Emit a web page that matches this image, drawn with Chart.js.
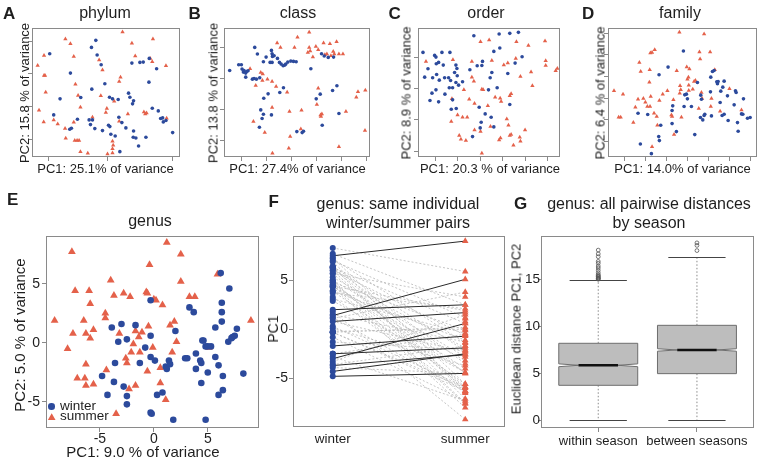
<!DOCTYPE html>
<html><head><meta charset="utf-8">
<script src="https://cdn.jsdelivr.net/npm/chart.js@4/dist/chart.umd.min.js"></script>
<style>
html,body{margin:0;padding:0;background:#fff}
body{position:relative;width:759px;height:460px;overflow:hidden;font-family:"Liberation Sans",Arial,Helvetica,sans-serif;color:#1e1e1e}
canvas{position:absolute;left:0;top:0}
.t{position:absolute;white-space:nowrap;line-height:1}
.mk{position:absolute}
</style></head><body>
<script>
// ---------------- DATA ----------------
const phylumWinter = [[-8.65,7.9],[-1.75,9.9],[-2.4,8.85],[-1.55,7.7],[-0.95,6.25],[-5.55,5.0],[-0.4,3.4],[-2.35,2.6],[-7.1,1.15],[-4.0,1.35],[0.3,1.4],[0.75,1.15],[1.6,1.05],[3.15,2.0],[3.35,1.4],[3.9,0.85],[3.75,0.4],[-8.05,-1.25],[-4.5,-1.9],[-5.65,-3.4],[-2.55,-2.7],[-2.25,-2.0],[-1.9,-3.3],[-0.75,-3.6],[0.15,-2.8],[0.35,-3.0],[1.15,-4.4],[0.5,-4.15],[1.7,-1.6],[2.15,-2.4],[2.75,-3.2],[3.9,-3.65],[3.85,-4.6],[4.25,-4.7],[4.65,-5.9],[5.75,-4.6],[1.85,-6.75],[3.65,6.5],[4.85,6.6],[5.35,6.65],[6.25,7.2],[7.35,5.65],[6.2,3.65],[6.7,-0.25],[7.6,-0.65],[7.95,-1.8],[8.25,-1.7],[8.35,-2.3],[8.75,-2.1],[9.75,-3.9],[-5.4,-3.25],[-2.75,-2.0]];
const phylumSummer = [[2.25,11.15],[6.8,10.1],[-6.3,10.1],[-5.55,9.4],[3.65,9.45],[-9.5,7.65],[-5.05,7.5],[-1.25,6.95],[4.15,7.55],[6.4,7.2],[6.7,6.7],[8.75,6.1],[-10.45,6.15],[-0.75,5.45],[-9.5,4.65],[-9.35,4.65],[1.95,4.4],[1.75,3.75],[-4.8,3.35],[-9.25,2.15],[-4.4,1.65],[-1.0,1.6],[1.0,0.8],[-4.05,-0.1],[-0.1,-0.3],[-0.25,-0.9],[-10.25,-0.55],[3.05,-1.1],[5.45,-0.8],[5.65,-1.1],[5.85,-0.95],[8.85,-1.75],[-8.05,-2.0],[-7.45,-2.6],[-9.55,-2.3],[-6.35,-3.3],[-2.25,-1.6],[-5.05,-2.35],[1.75,-2.2],[-6.25,-4.75],[-4.9,-5.1],[-4.55,-5.1],[-4.25,-5.1],[0.75,-5.2],[0.85,-5.8],[-4.05,-6.75],[-2.95,-7.0],[0.0,-7.1],[0.75,-6.95],[0.75,-6.3]];

const classWinter = [[-9.25,5.8],[-7.9,6.65],[-7.5,6.65],[-7.4,6.0],[-7.2,5.55],[-6.85,5.4],[-7.1,5.8],[-6.7,5.65],[-6.5,5.75],[-6.85,4.8],[-5.85,4.5],[-5.6,4.6],[-5.25,4.5],[-4.75,4.7],[-5.5,9.25],[-5.1,8.25],[-4.2,7.1],[-3.8,7.8],[-3.2,7.0],[-3.0,8.8],[-2.9,8.3],[-2.85,7.9],[-2.1,7.6],[-1.8,7.0],[-1.55,6.75],[-1.25,6.5],[-1.0,6.6],[-0.85,6.75],[-0.55,7.05],[-0.1,7.2],[0.3,7.15],[0.7,7.1],[-2.9,7.0],[-2.6,8.0],[-1.2,3.2],[-1.75,2.5],[-4.15,1.65],[-3.5,2.3],[-4.6,-0.1],[-4.2,-0.75],[-4.4,-1.4],[-4.8,-2.7],[-3.0,-0.85],[0.8,-3.35],[1.6,-3.5],[1.8,-3.3],[2.9,6.05],[4.5,8.3],[4.9,7.95],[5.5,7.75],[6.3,7.8],[6.15,2.8],[6.8,3.5],[3.7,1.55],[4.3,2.25],[4.6,-2.4],[7.1,-0.65]];
const classSummer = [[2.65,11.5],[0.9,10.75],[-2.15,9.9],[-1.65,9.25],[0.45,9.25],[-6.2,6.05],[-4.6,5.5],[-4.3,5.25],[-5.35,3.55],[-4.35,4.3],[-3.6,4.5],[-2.9,4.15],[-2.3,3.4],[-0.65,2.55],[2.65,9.25],[2.8,8.7],[3.2,7.8],[2.45,8.5],[3.65,9.4],[4.0,8.9],[4.8,9.9],[5.75,9.8],[6.75,10.1],[5.0,8.15],[5.3,8.25],[6.25,8.65],[6.4,8.25],[7.1,8.25],[7.7,8.25],[5.9,8.0],[4.0,3.15],[9.95,2.6],[9.7,1.8],[11.05,2.85],[3.8,0.7],[4.35,-0.85],[4.55,-0.7],[4.4,-1.1],[8.15,-0.35],[1.5,-0.15],[-0.3,-0.35],[-2.9,0.25],[-5.7,-1.85],[-4.0,-3.5],[-0.2,-4.1],[-0.4,-5.85],[1.4,-2.95],[-2.85,-6.6],[7.1,-5.6],[11.0,-3.2]];

const orderWinter = [[-8.65,10.1],[-6.9,9.65],[-6.7,9.4],[-5.8,10.1],[-4.6,10.1],[-6.65,8.4],[-6.3,8.6],[-5.6,8.2],[-7.9,7.65],[-8.4,6.4],[-7.2,6.3],[-6.6,6.8],[-6.2,5.95],[-5.4,6.3],[-4.8,6.3],[-3.7,8.2],[-3.55,7.7],[-3.9,7.1],[-3.5,6.6],[-4.5,5.9],[-3.7,5.6],[-2.7,5.7],[-3.3,5.2],[-4.2,4.8],[-4.7,4.8],[-6.7,4.5],[-7.3,4.0],[-7.6,2.9],[-6.3,2.7],[-5.35,3.85],[-4.2,3.0],[-4.4,1.6],[-3.65,1.7],[-1.0,12.6],[2.8,12.85],[4.4,12.95],[5.7,13.1],[2.9,10.75],[2.0,10.25],[6.25,9.45],[5.2,8.5],[4.1,6.95],[-1.6,7.5],[-0.5,8.1],[0.3,8.75],[0.2,8.15],[1.7,7.1],[1.45,6.3],[1.2,4.5],[2.5,4.8],[4.4,2.3],[-0.2,1.9],[0.7,0.9],[1.6,0.4],[0.1,-0.35],[-0.05,-1.2],[-1.2,-2.5],[2.0,-1.05]];
const orderSummer = [[-8.2,8.75],[-4.15,9.0],[0.0,11.7],[1.3,11.95],[-1.3,8.75],[1.7,8.9],[-1.3,6.4],[-1.0,5.8],[-2.5,4.5],[-4.3,3.15],[-4.4,-0.25],[-3.45,0.75],[-2.7,0.4],[-2.0,0.4],[-1.7,3.1],[-0.9,2.45],[0.2,4.6],[0.4,4.5],[1.1,2.1],[2.2,3.4],[2.95,3.25],[0.0,-1.75],[-0.9,-1.5],[1.5,-1.0],[-3.2,-2.35],[-2.95,-2.9],[-2.2,-3.1],[0.2,-5.0],[2.8,-3.0],[3.0,-2.7],[3.95,0.15],[4.2,-0.8],[4.4,-2.35],[4.6,-2.2],[4.95,-3.8],[5.9,-2.6],[6.0,-3.2],[6.7,-1.5],[4.1,8.5],[4.4,3.6],[4.6,3.9],[3.5,8.2],[5.4,11.7],[7.2,11.15],[5.3,9.2],[6.0,6.5],[7.6,7.15],[7.8,5.1],[9.7,11.8],[9.8,8.85],[9.8,8.15],[11.3,7.35],[11.55,7.7],[3.1,2.75]];

const familyWinter = [[2.55,7.05],[0.25,4.65],[-1.1,3.5],[-4.25,-2.25],[-3.9,-6.85],[-2.8,-2.45],[-2.25,-8.3],[-1.15,-5.75],[-1.05,-6.35],[-0.85,-4.05],[0.85,-3.8],[0.85,-1.85],[0.95,-1.15],[1.5,-5.0],[2.75,0.5],[2.65,-1.25],[3.0,0.6],[3.15,-0.1],[3.75,-1.25],[4.25,-5.45],[4.65,2.35],[5.15,0.45],[5.25,-0.15],[5.1,-2.9],[5.65,-2.6],[5.75,-2.4],[5.45,-3.25],[6.65,3.15],[6.9,4.0],[6.6,0.95],[6.75,-2.65],[7.15,4.15],[7.55,2.45],[7.65,2.15],[7.75,2.5],[8.15,1.05],[8.05,-0.65],[8.65,2.55],[8.45,1.65],[8.35,-2.6],[8.65,-2.4],[9.15,0.35],[9.25,-3.35],[10.15,-1.0],[10.35,1.1],[10.45,0.85],[10.65,-3.65],[10.75,-4.95],[11.25,-2.35],[11.45,-2.4],[11.55,-0.1],[12.15,-3.0],[12.55,-2.9]];
const familySummer = [[-7.85,1.1],[-6.5,0.6],[-7.15,-2.85],[-6.85,-2.85],[-4.95,-3.65],[-4.65,-1.35],[-4.25,-0.15],[-3.45,-0.05],[-4.05,5.35],[-3.85,4.0],[-2.85,-1.25],[-2.45,-1.25],[-3.15,-0.6],[-2.35,0.25],[-2.55,2.4],[-2.5,4.25],[-2.4,6.75],[-2.15,6.85],[-1.75,7.25],[-1.85,-2.25],[-1.45,-2.75],[-1.35,-4.05],[-1.05,-0.35],[-0.55,0.6],[0.15,1.1],[-2.15,-7.25],[1.05,-0.25],[0.75,-2.5],[0.85,-2.75],[1.15,-5.45],[1.55,4.1],[2.25,-2.85],[1.95,9.85],[2.0,0.75],[2.15,1.25],[2.05,1.85],[3.05,4.65],[3.15,2.85],[3.3,3.15],[3.45,4.35],[3.35,1.95],[3.35,1.15],[3.95,1.35],[4.15,2.5],[4.35,2.65],[4.85,-1.55],[4.95,6.9],[5.05,5.85],[5.25,0.85],[5.35,-0.05],[5.65,9.6],[6.55,6.9],[6.65,-1.25],[6.75,-0.05],[7.25,4.25],[8.05,-1.95],[9.45,1.4],[11.25,-1.75]];

const genusWinter = [[-3.9,1.3],[-3.0,1.6],[-3.3,0.1],[-3.6,-1.7],[-4.8,-2.8],[-4.3,-4.4],[-3.7,-3.3],[-2.8,-3.7],[-2.5,-4.5],[-2.5,-5.2],[-2.5,0.3],[-1.7,1.5],[-1.3,-1.7],[-0.8,-0.4],[-0.3,3.6],[-0.3,-1.2],[-0.3,0.6],[0.1,-1.5],[0.3,-4.4],[0.8,-4.2],[-0.3,-5.9],[-0.2,-6.0],[1.4,-1.5],[1.1,-2.0],[1.2,-2.2],[1.5,-1.8],[1.8,-6.5],[2.0,1.0],[2.9,-1.3],[3.1,-1.3],[3.3,3.0],[3.7,2.6],[3.9,-0.9],[3.9,-2.2],[4.3,-1.5],[4.4,-1.7],[4.4,-3.4],[4.5,0.2],[4.6,0.2],[4.8,-0.3],[5.0,-0.3],[5.0,-2.5],[5.3,-0.3],[4.8,-6.5],[5.7,1.3],[5.7,-1.2],[6.0,-1.9],[6.0,-4.4],[6.3,1.8],[6.2,5.9],[6.3,3.4],[6.3,2.6],[6.4,-2.8],[6.4,-4.0],[6.9,0.1],[7.0,4.6],[7.2,0.4],[7.3,0.5],[7.5,0.6],[7.7,1.2],[8.3,-2.6]];
const genusSummer = [[-9.2,1.9],[-7.6,7.7],[-7.3,4.4],[-6.0,4.4],[-5.9,3.3],[-6.5,1.9],[-5.6,1.1],[-7.5,0.8],[-6.3,0.8],[-5.9,0.4],[-8.0,-0.5],[-6.3,-1.8],[-7.1,-3.0],[-6.4,-3.0],[-6.3,-3.6],[-5.6,-3.5],[-4.0,5.3],[-3.7,4.0],[-4.5,2.5],[-4.5,2.1],[-3.2,0.8],[-4.4,-2.3],[-3.5,-6.0],[-2.8,4.2],[-2.2,3.9],[-1.7,1.0],[-1.9,-0.1],[-2.1,-0.8],[-2.6,-1.3],[-2.5,-1.7],[-2.3,-3.9],[-1.7,-3.6],[-1.4,0.5],[-1.3,-0.8],[-1.1,0.9],[-0.7,4.3],[-0.6,4.2],[-0.5,1.4],[-0.6,-2.4],[-0.4,6.6],[0.0,3.7],[0.2,3.6],[-0.1,-0.4],[0.8,3.2],[0.6,-2.1],[0.6,-3.4],[1.1,-4.8],[1.2,8.5],[1.5,1.5],[1.9,1.8],[2.1,0.1],[1.7,-0.8],[2.5,7.5],[2.5,5.2],[3.3,3.9],[3.8,3.9],[5.1,-0.4],[5.9,5.8],[9.0,1.9]];

// panel F: same individual pairs (PC1 winter -> PC1 summer)
const pairWinterPC1 = [8.3,7.7,7.3,7.2,7.0,6.9,6.4,6.4,6.3,6.3,6.2,6.0,6.0,5.7,5.7,5.3,5.0,5.0,4.8,4.8,4.6,4.5,4.4,4.4,4.3,3.9,3.9,3.7,3.3,3.1,2.9,1.8,1.5,1.2,1.1,0.8,0.3,0.1,-0.2,-0.3,-0.8,-1.3,-2.5,-2.8,-3.3,-3.9,-3.6,-0.3,-0.3,4.4];
const pairSummerPC1 = [5.9,2.5,-5.6,-1.4,1.2,-6.3,-2.2,-7.1,0.6,-3.5,-4.5,-0.6,-6.4,3.3,-5.9,-1.9,-7.5,-2.8,-0.1,-6.0,-4.0,-7.6,1.9,-3.2,-8.0,-1.1,-5.6,2.1,-6.5,-0.4,-4.4,-9.2,-1.3,-6.3,3.8,-2.3,-5.9,-3.7,0.0,-6.3,-7.3,-2.1,-0.5,-7.3,1.5,-4.5,-1.7,-6.0,0.2,-4.4];
const solidWinterPC1 = [7.5,1.4,2.0,0.8,-3.0,-1.7,-2.5,-3.7,-4.3,-4.8];
const solidSummerPC1 = [9.0,5.1,2.5,1.7,0.6,-0.7,-1.9,-2.6,-2.5,-4.5];
const fCats = ['winter','summer'];

// panel G: boxplot statistics
const gCats = ['within season','between seasons'];
const gMin = [0.0, 0.07];
const gQ1 = [3.72, 4.96];
const gMed = [5.85, 7.48];
const gQ3 = [8.19, 10.1];
const gMax = [14.9, 17.34];
const gNotch = [0.15, 0.13];
const gOutWithin = [15.0,15.05,15.1,15.15,15.25,15.3,15.4,15.5,15.7,15.95,16.2,16.4,16.7,16.9,17.4,17.7,18.1];
const gOutBetween = [18.05,18.6,18.87];

// tick positions (no labels shown on A-D)
const ticksA = {x:[-8.9,0,9.7], y:[-4.9,0,4.9,9.75]};
const ticksB = {x:[-7.5,-3.75,0,3.75,7.5,11.25], y:[-4.65,0,4.65,9.3]};
const ticksC = {x:[-6.7,-3.4,0,3.35,6.7,10], y:[-4.75,0,4.7,9.4]};
const ticksD = {x:[-6.3,-3.15,0,3.15,6.3,9.45,12.6], y:[-6.5,-3.25,0,3.25,6.5,9.75]};
const ticksE = [-5,0,5];
const ticksF = [-5,0,5];
const ticksG = [0,5,10,15];

// ---------------- DRAWING ----------------
const W = 759, H = 460;
const FONT = '"Liberation Sans", Arial, Helvetica, sans-serif';
const BLUE = '#2c4a9c', RED = '#e4614a', INK = '#1e1e1e', FRAME = '#8a8a8a';

const framePlugin = {id:'frame', afterDraw(c){
  const a = c.chartArea, ctx = c.ctx;
  ctx.save(); ctx.strokeStyle = FRAME; ctx.lineWidth = 1;
  ctx.strokeRect(Math.round(a.left)+0.5, Math.round(a.top)+0.5, Math.round(a.right-a.left)-1, Math.round(a.bottom-a.top)-1);
  ctx.restore();
}};

function ax(isY, box, min, max, ticks, o){
  o = o || {};
  const tl = (o.tl === undefined) ? 4 : o.tl;
  return {type:'linear', min, max, bounds:'data', position: isY ? 'left' : 'bottom',
    afterBuildTicks: s => { s.ticks = ticks.map(v => ({value:v})); },
    afterFit: s => { if (isY) s.width = box.l; else s.height = H - box.b; },
    grid:{drawOnChartArea:false, drawTicks: tl > 0, tickLength: tl, color: FRAME, lineWidth:1},
    border:{display:false},
    ticks:{display: !!o.labels, autoSkip:false, maxRotation:0, minRotation:0, padding: o.pad || 0, color: INK,
      font:{family:FONT, size:o.size || 13, lineHeight:1}, callback: o.fmt || (v => String(v))}
  };
}

function mk(box, xs, ys, datasets, extra){
  const cv = document.createElement('canvas'); cv.width = W; cv.height = H;
  document.body.appendChild(cv);
  return new Chart(cv, {type:'scatter', data:{datasets},
    options:{responsive:false, animation:false, events:[],
      layout:{padding:{left:0, top:box.t, right:W-box.r, bottom:0}},
      plugins:{legend:{display:false}, tooltip:{enabled:false}},
      scales:{x:xs, y:ys}},
    plugins:[framePlugin].concat(extra || [])});
}

function pts(arr, style, color, r){
  return {data: arr.map(p => ({x:p[0], y:p[1]})), pointStyle:style, pointRadius:r, pointHoverRadius:r,
    pointBackgroundColor:color, pointBorderWidth:0, showLine:false};
}

// small panels A-D
function small(box, w, s, xr, yr, tk){
  mk(box, ax(false, box, xr[0], xr[1], tk.x), ax(true, box, yr[0], yr[1], tk.y),
    [pts(w,'circle',BLUE,1.8), pts(s,'triangle',RED,2.5)]);
}
small({l:32,t:28,r:180,b:157}, phylumWinter, phylumSummer, [-11.3,10.85], [-7.55,11.75], ticksA);
small({l:224,t:28,r:370,b:157}, classWinter, classSummer, [-10.1,11.75], [-7.15,12.15], ticksB);
small({l:418,t:28,r:560,b:157}, orderWinter, orderSummer, [-9.4,11.95], [-5.55,13.75], ticksC);
small({l:608,t:28,r:757,b:157}, familyWinter, familySummer, [-8.75,13.5], [-8.8,10.5], ticksD);

// panel E
const boxE = {l:46,t:236,r:259,b:428};
mk(boxE, ax(false, boxE, -10, 9.75, ticksE, {labels:true, size:14, pad:0}),
  ax(true, boxE, -7.2, 9.04, ticksE, {labels:true, size:14, pad:2}),
  [pts(genusWinter,'circle',BLUE,3.3), pts(genusSummer,'triangle',RED,4.5)]);

// panel F
const boxF = {l:293,t:236,r:505,b:427};
const fDatasets = [
  {data: genusWinter.map(p => ({x:1, y:p[0]})), pointStyle:'circle', pointRadius:3, pointBackgroundColor:BLUE, pointBorderWidth:0, showLine:false},
  {data: genusSummer.map(p => ({x:2, y:p[0]})), pointStyle:'triangle', pointRadius:3.8, pointBackgroundColor:RED, pointBorderWidth:0, showLine:false}
];
solidWinterPC1.forEach((w,i) => fDatasets.push({data:[{x:1,y:w},{x:2,y:solidSummerPC1[i]}], showLine:true, pointRadius:0, borderColor:'#2a2a2a', borderWidth:1}));
pairWinterPC1.forEach((w,i) => fDatasets.push({data:[{x:1,y:w},{x:2,y:pairSummerPC1[i]}], showLine:true, pointRadius:0, borderColor:'#b8b8b8', borderWidth:0.8, borderDash:[2,2]}));
mk(boxF, ax(false, boxF, 0.7, 2.3, [1,2], {labels:true, size:13.5, tl:0, pad:6, fmt: v => fCats[v-1]}),
  ax(true, boxF, -9.97, 9.52, ticksF, {labels:true, size:14, pad:1}), fDatasets);

// panel G
const boxG = {l:541,t:236,r:755,b:428};
const boxPlugin = {id:'boxes', beforeDatasetsDraw(c){
  const xs = c.scales.x, ys = c.scales.y, ctx = c.ctx;
  gMed.forEach((m,i) => {
    const xc = xs.getPixelForValue(i+1);
    const hw = xs.getPixelForValue(i+1.4) - xc;
    const cap = xs.getPixelForValue(i+1.29) - xc;
    const y = v => ys.getPixelForValue(v);
    ctx.save();
    // whiskers
    ctx.strokeStyle = '#8a8a8a'; ctx.lineWidth = 1; ctx.setLineDash([1.5,2]);
    ctx.beginPath(); ctx.moveTo(xc, y(gQ3[i])); ctx.lineTo(xc, y(gMax[i]));
    ctx.moveTo(xc, y(gQ1[i])); ctx.lineTo(xc, y(gMin[i])); ctx.stroke();
    ctx.setLineDash([]); ctx.strokeStyle = '#444';
    ctx.beginPath(); ctx.moveTo(xc-cap, Math.round(y(gMax[i]))+0.5); ctx.lineTo(xc+cap, Math.round(y(gMax[i]))+0.5);
    ctx.moveTo(xc-cap, Math.round(y(gMin[i]))+0.5); ctx.lineTo(xc+cap, Math.round(y(gMin[i]))+0.5); ctx.stroke();
    // notched box
    const n = gNotch[i];
    ctx.beginPath();
    ctx.moveTo(xc-hw, y(gQ1[i])); ctx.lineTo(xc-hw, y(m-n)); ctx.lineTo(xc-hw/2, y(m)); ctx.lineTo(xc-hw, y(m+n));
    ctx.lineTo(xc-hw, y(gQ3[i])); ctx.lineTo(xc+hw, y(gQ3[i])); ctx.lineTo(xc+hw, y(m+n)); ctx.lineTo(xc+hw/2, y(m));
    ctx.lineTo(xc+hw, y(m-n)); ctx.lineTo(xc+hw, y(gQ1[i])); ctx.closePath();
    ctx.fillStyle = '#bdbdbd'; ctx.fill(); ctx.strokeStyle = '#6e6e6e'; ctx.lineWidth = 1; ctx.stroke();
    // median
    ctx.beginPath(); ctx.moveTo(xc-hw/2, y(m)); ctx.lineTo(xc+hw/2, y(m));
    ctx.strokeStyle = '#111'; ctx.lineWidth = 2.5; ctx.stroke();
    ctx.restore();
  });
}};
const gDatasets = [{data: gOutWithin.map(v => ({x:1,y:v})).concat(gOutBetween.map(v => ({x:2,y:v}))),
  pointStyle:'circle', pointRadius:1.9, pointBackgroundColor:'rgba(0,0,0,0)', pointBorderColor:'#555', pointBorderWidth:0.8, showLine:false}];
mk(boxG, ax(false, boxG, 0.42, 2.58, [1,2], {labels:true, size:13, tl:4, pad:2.5, fmt: v => gCats[v-1]}),
  ax(true, boxG, -0.82, 19.6, ticksG, {labels:true, size:13.5, tl:3, pad:-2}), gDatasets, [boxPlugin]);

// ---------------- TEXT ----------------
function txt(s, x, base, size, o){
  o = o || {};
  const d = document.createElement('div'); d.className = 't'; d.textContent = s;
  d.style.fontSize = size + 'px';
  if (o.bold) d.style.fontWeight = 'bold';
  if (o.rot) {
    d.style.left = x + 'px'; d.style.top = base + 'px';
    d.style.transform = 'translate(-50%,-50%) rotate(-90deg)';
  } else {
    d.style.top = (base - 0.8465*size) + 'px';
    d.style.left = x + 'px';
    if (!o.left) d.style.transform = 'translateX(-50%)';
  }
  document.body.appendChild(d);
}
// panel letters
[['A',3,19.5],['B',188.5,19.5],['C',388.5,19.5],['D',582,19.5],['E',7,205],['F',268.5,207.5],['G',514,209]]
  .forEach(a => txt(a[0], a[1], a[2], 17, {bold:true, left:true}));
// titles
txt('phylum',105,18.8,16); txt('class',298,18.8,16); txt('order',486,18.8,16); txt('family',680,18.8,16);
txt('genus',150,226.5,16);
txt('genus: same individual',398,210,16); txt('winter/summer pairs',398,228.3,16);
txt('genus: all pairwise distances',649,210,16); txt('by season',649,228.3,16);
// axis titles
txt('PC1: 25.1% of variance',105.5,173,13); txt('PC2: 15.8 % of variance',24,92.5,13,{rot:true});
txt('PC1: 27.4% of variance',297.5,173,13); txt('PC2: 13.8 % of variance',213,92.5,13,{rot:true});
txt('PC1: 20.3 % of variance',490,173,13); txt('PC2: 8.9 % of variance',405.5,92.5,13,{rot:true});
txt('PC1: 14.0% of variance',682.5,173,13); txt('PC2: 6.4 % of variance',600,92.5,13,{rot:true});
txt('PC1: 9.0 % of variance',143,457,15); txt('PC2: 5.0 % of variance',19,335,15,{rot:true});
txt('PC1',272.5,328.5,14,{rot:true});
txt('Euclidean distance PC1, PC2',515.5,329,13,{rot:true});
// legend for E
txt('winter',60,410.3,13.5,{left:true}); txt('summer',60,420.8,13.5,{left:true});
const c1 = document.createElement('div'); c1.className='mk';
Object.assign(c1.style,{left:'48.4px',top:'403.4px',width:'6.6px',height:'6.6px',borderRadius:'50%',background:BLUE});
document.body.appendChild(c1);
const t1 = document.createElement('div'); t1.className='mk';
Object.assign(t1.style,{left:'47.7px',top:'413.3px',width:'8px',height:'7px',background:RED,clipPath:'polygon(50% 0,100% 100%,0 100%)'});
document.body.appendChild(t1);
</script>
</body></html>
